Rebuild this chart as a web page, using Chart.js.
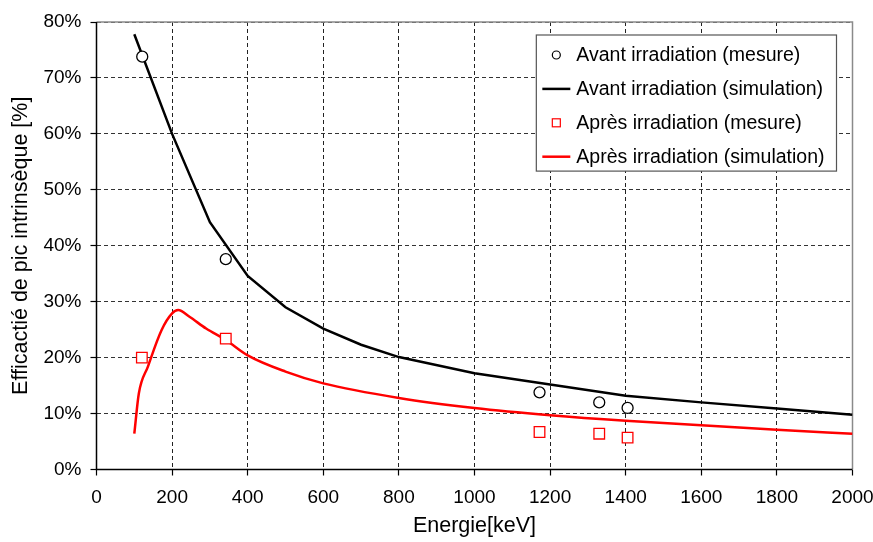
<!DOCTYPE html>
<html>
<head>
<meta charset="utf-8">
<script src="https://cdn.jsdelivr.net/npm/chart.js@4"></script>
<style>
html,body{margin:0;padding:0;background:#fff;}
#wrap{width:873px;height:542px;}
</style>
</head>
<body>
<div id="wrap"><canvas id="mychart" width="873" height="542"></canvas></div>
<script>
// mesures
var avantMesureX = [121, 342, 1172, 1330, 1405]
var avantMesureY = [73.8, 37.6, 13.8, 12.0, 11.0]
var apresMesureX = [120, 342, 1172, 1330, 1405]
var apresMesureY = [20.0, 23.4, 6.7, 6.4, 5.7]

// simulations
var avantSimX = [100, 200, 300, 400, 500, 600, 700, 800, 1000, 1200, 1400, 1600, 1800, 2000]
var avantSimY = [77.8, 60.0, 44.2, 34.6, 29.0, 25.2, 22.3, 20.1, 17.2, 15.2, 13.2, 12.0, 10.9, 9.8]
var apresSimX = [100, 112, 136, 172, 200, 216, 246, 290, 343, 400, 500, 600, 800, 1000, 1200, 1400, 1600, 1800, 2000]
var apresSimY = [6.4, 13.6, 18.4, 24.9, 27.9, 28.5, 27.3, 25.2, 23.1, 20.4, 17.5, 15.4, 12.8, 11.0, 9.7, 8.7, 7.9, 7.1, 6.4]

var labels = ['Avant irradiation (mesure)', 'Avant irradiation (simulation)', 'Après irradiation (mesure)', 'Après irradiation (simulation)']

function pts(xs, ys){
  var out = []
  for (var i = 0; i < xs.length; i++) out.push({x: xs[i], y: ys[i]})
  return out
}

var FONT = "'Liberation Sans', Arial, sans-serif"

// cadre du graphique
var framePlugin = {
  id: 'frame',
  beforeDatasetsDraw: function(chart){
    var a = chart.chartArea, ctx = chart.ctx
    ctx.save()
    ctx.setLineDash([])
    ctx.lineWidth = 1.5
    ctx.strokeStyle = '#8a8a8a'
    ctx.beginPath()
    ctx.moveTo(a.left, a.top); ctx.lineTo(a.right, a.top); ctx.lineTo(a.right, a.bottom)
    ctx.stroke()
    ctx.strokeStyle = '#000'
    ctx.beginPath()
    ctx.moveTo(a.left, a.top); ctx.lineTo(a.left, a.bottom); ctx.lineTo(a.right, a.bottom)
    ctx.stroke()
    ctx.restore()
  }
}

// legende dans le graphique
var legendPlugin = {
  id: 'boxLegend',
  afterDraw: function(chart){
    var a = chart.chartArea, ctx = chart.ctx
    var ds = chart.data.datasets
    ctx.save()
    ctx.font = '19.5px ' + FONT
    var maxW = 0
    ds.forEach(function(d){ maxW = Math.max(maxW, ctx.measureText(d.label).width) })
    var rowH = 33.9
    var w = 44 + maxW + 8
    var h = rowH * ds.length + 0.5
    var right = a.right - 16
    var left = right - w
    var top = a.top + 13
    ctx.fillStyle = '#fff'
    ctx.fillRect(left, top, w, h)
    ctx.strokeStyle = '#555'
    ctx.lineWidth = 1.2
    ctx.strokeRect(left, top, w, h)
    ds.forEach(function(d, i){
      var cy = top + 20 + i * rowH
      var mx = left + 20
      if (d.showLine) {
        ctx.strokeStyle = d.borderColor
        ctx.lineWidth = 2.5
        ctx.beginPath()
        ctx.moveTo(left + 6, cy); ctx.lineTo(left + 34, cy)
        ctx.stroke()
      } else if (d.pointStyle === 'rect') {
        ctx.strokeStyle = d.pointBorderColor
        ctx.lineWidth = 1.2
        ctx.strokeRect(mx - 4, cy - 4, 8, 8)
      } else {
        ctx.strokeStyle = d.pointBorderColor
        ctx.lineWidth = 1.2
        ctx.beginPath()
        ctx.arc(mx, cy, 4, 0, Math.PI * 2)
        ctx.stroke()
      }
      ctx.fillStyle = '#000'
      ctx.textBaseline = 'middle'
      ctx.fillText(d.label, left + 40, cy + 1)
    })
    ctx.restore()
  }
}

var mychart = document.getElementById('mychart').getContext('2d')
var chart = new Chart(mychart, {
  type: 'scatter',
  data: {
    datasets: [
      {
        label: labels[0],
        data: pts(avantMesureX, avantMesureY),
        showLine: false,
        pointStyle: 'circle',
        pointRadius: 5.5,
        pointBorderWidth: 1.3,
        pointBorderColor: '#000',
        pointBackgroundColor: '#fff'
      },
      {
        label: labels[1],
        data: pts(avantSimX, avantSimY),
        showLine: true,
        borderColor: '#000',
        borderWidth: 2.5,
        pointRadius: 0,
        tension: 0
      },
      {
        label: labels[2],
        data: pts(apresMesureX, apresMesureY),
        showLine: false,
        pointStyle: 'rect',
        pointRadius: 7.5,
        pointBorderWidth: 1.3,
        pointBorderColor: '#ff0000',
        pointBackgroundColor: '#fff'
      },
      {
        label: labels[3],
        data: pts(apresSimX, apresSimY),
        showLine: true,
        borderColor: '#ff0000',
        borderWidth: 2.5,
        pointRadius: 0,
        cubicInterpolationMode: 'monotone'
      }
    ]
  },
  options: {
    responsive: false,
    animation: false,
    layout: {padding: {top: 22, right: 20.5, left: 0, bottom: 0}},
    plugins: {legend: {display: false}, tooltip: {enabled: false}},
    scales: {
      x: {
        type: 'linear',
        min: 0, max: 2000,
        afterFit: function(s){ s.height = 72.5; s.paddingRight = 0; s.paddingLeft = 0 },
        ticks: {stepSize: 200, color: '#000', padding: 11, font: {size: 19, family: FONT}, maxRotation: 0, callback: function(v){ return String(v) }},
        grid: {color: '#222', lineWidth: 1, drawTicks: true, tickLength: 6, tickColor: '#000', tickWidth: 1.2},
        border: {display: false, dash: [4, 3]},
        title: {display: true, text: 'Energie[keV]', color: '#000', font: {size: 21.5, family: FONT}, padding: {top: 0, bottom: 3}}
      },
      y: {
        min: 0, max: 80,
        afterFit: function(s){ s.width = 96.5 },
        ticks: {stepSize: 10, color: '#000', padding: 9, font: {size: 19, family: FONT}, callback: function(v){ return v + '%' }},
        grid: {color: '#333', lineWidth: 1, drawTicks: true, tickLength: 6, tickColor: '#000', tickWidth: 1.2},
        border: {display: false, dash: [4, 3]},
        title: {display: true, text: 'Efficactié de pic intrinsèque [%]', color: '#000', font: {size: 21.5, family: FONT}, padding: {top: 8, bottom: 0}}
      }
    }
  },
  plugins: [framePlugin, legendPlugin]
})
</script>
</body>
</html>
